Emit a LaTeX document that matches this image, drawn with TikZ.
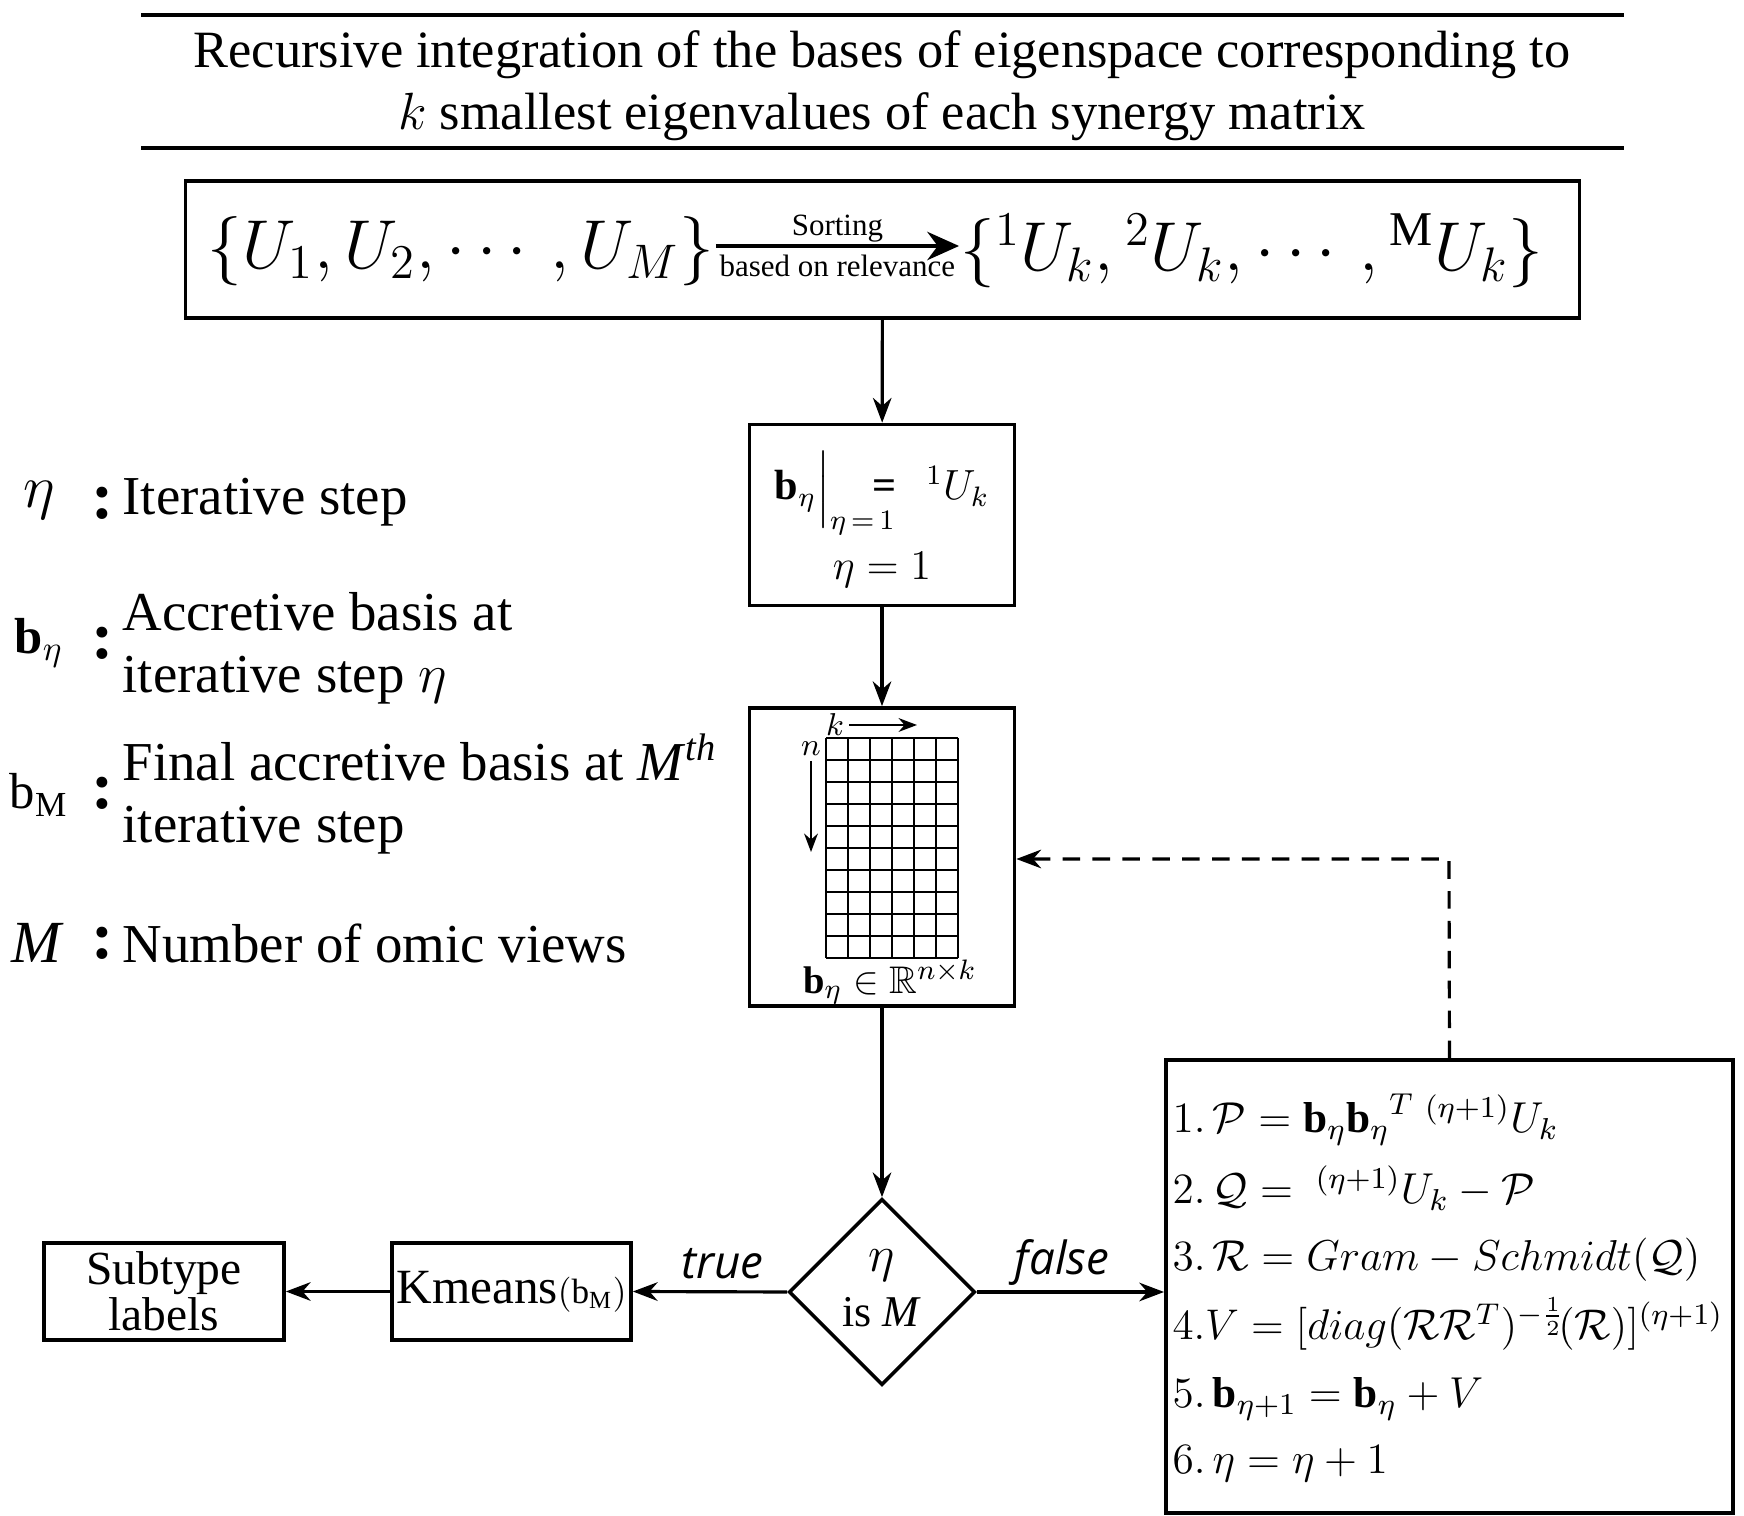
\RequirePackage{fix-cm}
\documentclass[tikz,border=0pt]{standalone}
\usepackage{amsmath,amssymb}
\usepackage{fontspec}
\setmainfont{Liberation Serif}
\newfontfamily\flagfont{Open Sans}
\usetikzlibrary{shapes.geometric,arrows.meta,calc}

\tikzset{
  box/.style={draw, line width=1pt, inner sep=0pt},
  flag/.style={above=0pt, font=\flagfont\itshape\fontsize{13}{15}\selectfont},
  legsym/.style={inner sep=0pt},
  legtxt/.style={anchor=west, inner sep=0pt, align=left, font=\fontsize{15.6}{17.7}\selectfont},
  legcol/.style={inner sep=0pt, font=\bfseries\fontsize{19}{22}\selectfont},
  step line/.style={anchor=base west, inner sep=0pt, font=\fontsize{12.3}{15}\selectfont},
}

\begin{document}
\begin{tikzpicture}[x=0.01cm, y=-0.01cm, >=Stealth, line width=0.9pt]
\useasboundingbox (0,0) rectangle (1744,1516);

% Title between rules
\draw (141,15) -- (1624,15);
\node[align=center, font=\fontsize{14.9}{17.6}\selectfont] (title) at (882,86)
  {Recursive integration of the bases of eigenspace corresponding to\\
   $k$ smallest eigenvalues of each synergy matrix};
\draw (141,148) -- (1624,148);

% Sorting of the bases
\node[box, minimum width=13.93cm, minimum height=1.37cm] (sort) at (882.5,249.5) {};
\node[inner sep=0pt, font=\fontsize{19.7}{23}\selectfont] (setU) at (461,251)
  {$\{U_1, U_2, \cdots, U_M\}$};
\node[inner sep=0pt, font=\fontsize{19.7}{23}\selectfont] (setUk) at (1252,251)
  {$\{{}^1U_k, {}^2U_k, \cdots, {}^{\mathrm{M}}U_k\}$};
\draw[-{Stealth[length=9pt,width=8pt]}, line width=1.4pt]
  ($(setU.east)+(0,-5)$) -- ($(setUk.west)+(0,-5)$)
  node[midway, above=-3pt, font=\fontsize{8.8}{10}\selectfont] (srt) {Sorting}
  node[midway, below=-1.5pt, font=\fontsize{8.8}{10}\selectfont] (rel) {based on relevance};

% Initial step
\node[box, minimum width=2.65cm, minimum height=1.81cm] (init) at (882,515) {};
\node[font=\fontsize{12}{14}\selectfont] (initeq) at (882,493)
  {$\mathbf{b}_\eta\Big|_{\eta\,=\,1}$\hspace{-0.55em}\textbf{=}\hspace{0.7em}${}^1U_k$};
\node[font=\fontsize{12}{14}\selectfont] (initst) at (882,570) {$\eta = 1$};

% Accretive basis matrix
\node[box, minimum width=2.65cm, minimum height=2.98cm] (mat) at (882,857) {};
\foreach \i in {0,...,6}
  \draw[line width=0.6pt] ({826+22*\i},738) -- ({826+22*\i},958);
\foreach \j in {0,...,10}
  \draw[line width=0.6pt] (826,{738+22*\j}) -- (958,{738+22*\j});
\node[inner sep=1pt, font=\fontsize{9}{10}\selectfont] (kl) at (835,725) {$k$};
\coordinate (kend) at (917,725);
\draw[->, line width=0.5pt] (kl.east) -- (kend);
\node[inner sep=1pt, font=\fontsize{9}{10}\selectfont] (nl) at (811,749) {$n$};
\coordinate (nend) at (811,852);
\draw[->, line width=0.5pt] (nl.south) -- (nend);
\node[font=\fontsize{10.95}{13}\selectfont] (matlbl) at (890,982)
  {$\mathbf{b}_\eta \in \mathbb{R}^{n\times k}$};

% Stop test
\node[draw, diamond, aspect=1, minimum width=1.86cm, minimum height=1.86cm,
  inner sep=0pt, line width=1pt] (dec) at (882,1292) {};
\node[font=\fontsize{14.4}{16}\selectfont] (decA) at (882,1266) {$\eta$};
\node[font=\fontsize{12.5}{16}\selectfont] (decB) at (882,1312) {is \textit{M}};

% Clustering and output
\node[box, minimum width=2.39cm, minimum height=0.97cm, font=\fontsize{14}{16}\selectfont]
  (km) at (511.5,1291.5) {Kmeans{\fontsize{10}{12}\selectfont$(\mathrm{b}_{\mathrm{M}})$}};
\node[box, minimum width=2.40cm, minimum height=0.97cm, align=center,
  font=\fontsize{13.5}{13}\selectfont] (lbls) at (164,1291.5) {Subtype\\labels};

% Update steps
\node[box, minimum width=5.67cm, minimum height=4.53cm] (upd) at (1449.5,1286.5) {};
\node[step line] (s1) at (1171,1133)
  {$1.\,\mathcal{P} = \mathbf{b}_\eta{\mathbf{b}_\eta}^T\ {}^{(\eta+1)}U_k$};
\node[step line] (s2) at (1171,1204)
  {$2.\,\mathcal{Q} = \ {}^{(\eta+1)}U_k - \mathcal{P}$};
\node[step line] (s3) at (1171,1271)
  {$3.\,\mathcal{R} = Gram - Schmidt(\mathcal{Q})$};
\node[step line, font=\fontsize{12.2}{15}\selectfont] (s4) at (1171,1340)
  {$4.V = [diag(\mathcal{R}\mathcal{R}^T)^{-\frac{1}{2}}\!(\mathcal{R})]^{(\eta+1)}$};
\node[step line] (s5) at (1171,1408)
  {$5.\,\mathbf{b}_{\eta+1} = \mathbf{b}_\eta + V$};
\node[step line] (s6) at (1171,1474)
  {$6.\,\eta = \eta + 1$};

% Connectors
\draw[->] (sort) -- (init);
\draw[->] (init) -- (mat);
\draw[->] (mat) -- (dec);
\draw[->] (dec.west) -- node[flag, pos=0.42] (tr) {true} (km.east);
\draw[->] (km.west) -- (lbls.east);
\draw[->] (dec.east) -- node[flag, pos=0.455, above=-2pt] (fl) {false} (dec.east -| upd.west);
\coordinate (fb) at (1449,859);
\draw[->, dash pattern=on 5pt off 3.5pt] (upd.north) -- (fb) -- (mat.east |- fb);

% Legend
\node[legsym, font=\fontsize{17.3}{20}\selectfont] (symEta) at (39,500) {$\eta$};
\node[legcol] (c1) at (103,503) {:};
\node[legtxt] (tEta) at (121,502) {Iterative step};
\node[legsym, font=\fontsize{14.4}{17}\selectfont] (symB) at (39,643) {$\mathbf{b}_\eta$};
\node[legcol] (c2) at (103,643) {:};
\node[legtxt] (tB) at (121,648) {Accretive basis at\\iterative step $\eta$};
\node[legsym, font=\fontsize{14.4}{17}\selectfont] (symBM) at (39,795) {$\mathrm{b}_{\mathrm{M}}$};
\node[legcol] (c3) at (103,793) {:};
\node[legtxt] (tBM) at (121,794)
  {Final accretive basis at \textit{M}\textsuperscript{\textit{th}}\\iterative step};
\node[legsym, font=\fontsize{17}{20}\selectfont] (symM) at (38,943) {\textit{M}};
\node[legcol] (c4) at (103,943) {:};
\node[legtxt] (tM) at (121,943) {Number of omic views};
\end{tikzpicture}
\end{document}
